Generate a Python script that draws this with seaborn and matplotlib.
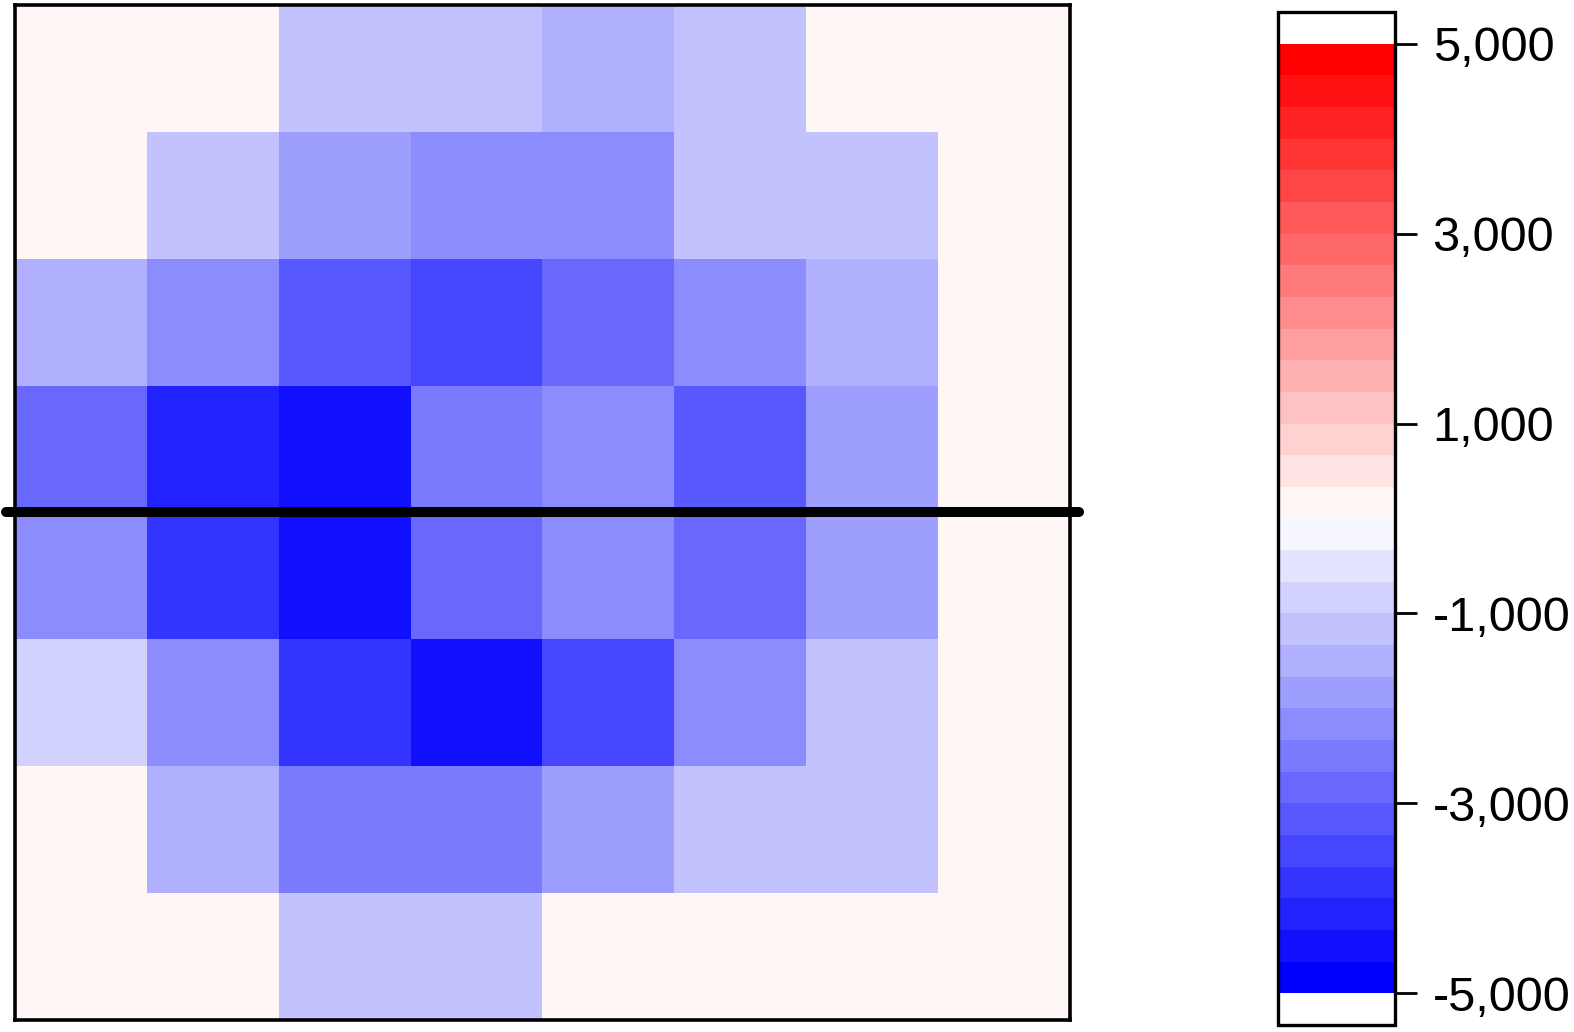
import numpy as np
import pandas as pd
import matplotlib
matplotlib.use("Agg")
import matplotlib.pyplot as plt
from matplotlib.colors import ListedColormap, BoundaryNorm, LinearSegmentedColormap
from matplotlib.ticker import FuncFormatter
import seaborn as sns


# Data (8 x 8 grid)

row_0 = [0, 0, -1170, -1170, -1500, -1170, 0, 0]
row_1 = [0, -1170, -1830, -2170, -2170, -1170, -1170, 0]
row_2 = [-1500, -2170, -3170, -3500, -2830, -2170, -1500, 0]
row_3 = [-2830, -4170, -4500, -2500, -2170, -3170, -1830, 0]
row_4 = [-2170, -3830, -4500, -2830, -2170, -2830, -1830, 0]
row_5 = [-830, -2170, -3830, -4500, -3500, -2170, -1170, 0]
row_6 = [0, -1500, -2500, -2500, -1830, -1170, -1170, 0]
row_7 = [0, 0, -1170, -1170, 0, 0, 0, 0]

cbar_ticks = [-5000, -3000, -1000, 1000, 3000, 5000]
split_row = 4

grid = pd.DataFrame([row_0, row_1, row_2, row_3, row_4, row_5, row_6, row_7])


# Colour scale: 30 steps blue -> white -> red, white beyond +/-5000

ramp = LinearSegmentedColormap.from_list("bwr_ramp", ["blue", "white", "red"])
steps = [ramp(t) for t in np.linspace(0, 1, 30)]
cmap = ListedColormap(["white"] + steps + ["white"])
step = 10000 / 30
bounds = np.linspace(-5000 - step, 5000 + step, 33)
norm = BoundaryNorm(bounds, cmap.N)


# Plot

sns.set_style("white")
plt.rcParams["font.family"] = ["Liberation Sans", "DejaVu Sans"]

fig = plt.figure(figsize=(15.74, 10.32), dpi=100)
ax = fig.add_axes([0.0095, 0.0116, 0.6703, 0.9836])
cax = fig.add_axes([0.812, 0.0068, 0.0743, 0.9816])

sns.heatmap(grid, cmap=cmap, norm=norm, ax=ax, cbar_ax=cax,
            xticklabels=False, yticklabels=False)

for side in ["top", "bottom", "left", "right"]:
    ax.spines[side].set_visible(True)
    ax.spines[side].set_color("black")
    ax.spines[side].set_linewidth(2.6)

ax.plot([-0.07, 8.07], [split_row, split_row], color="black", lw=7.2,
        solid_capstyle="round", clip_on=False, zorder=5)

cb = ax.collections[0].colorbar
cb.outline.set_linewidth(2.4)
cb.outline.set_edgecolor("black")
cb.set_ticks(cbar_ticks)
cb.minorticks_off()
cb.ax.yaxis.set_major_formatter(FuncFormatter(lambda x, p: f"{x:,.0f}"))
cb.ax.tick_params(length=16, width=2, pad=11, labelsize=35, colors="black")

fig.savefig("out.png", dpi=100)
